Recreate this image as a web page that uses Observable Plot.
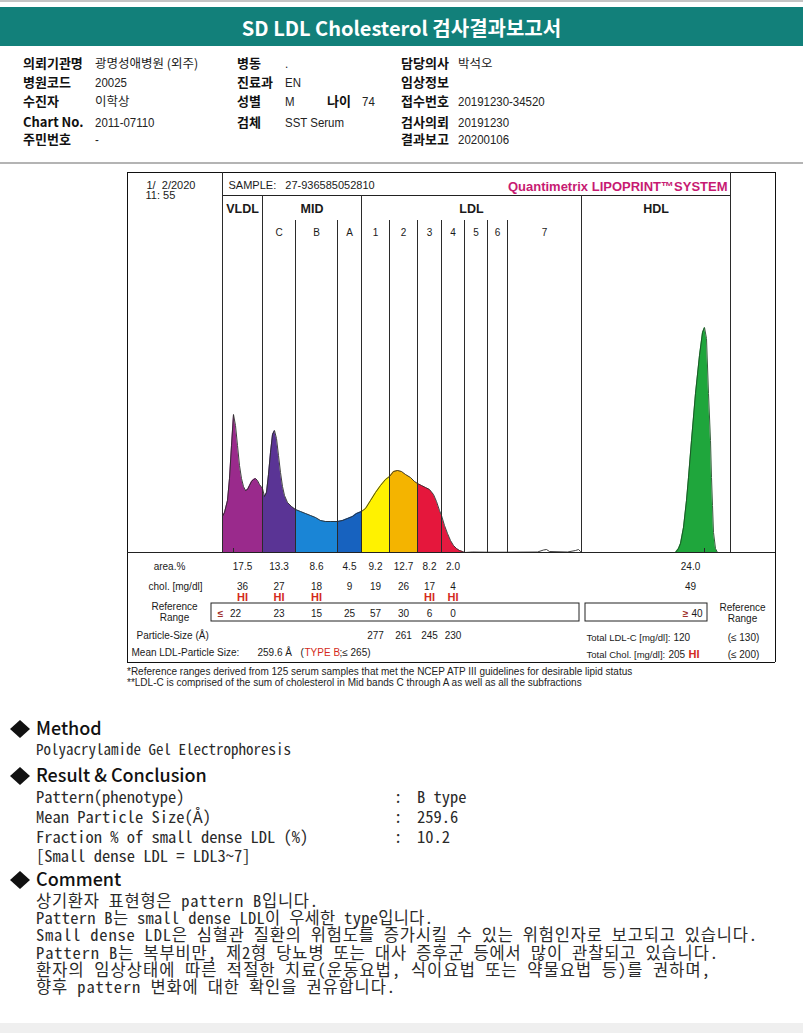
<!DOCTYPE html>
<html><head><meta charset="utf-8">
<script src="https://cdn.jsdelivr.net/npm/d3@7"></script>
<script src="https://cdn.jsdelivr.net/npm/@observablehq/plot@0.6"></script>
<style>
body{margin:0;background:#fff;}
#page{position:relative;width:803px;height:1033px;overflow:hidden;background:#fff;}
#page svg{position:absolute;left:0;}
</style></head>
<body><div id="page"></div>
<script>
// ---------------- DATA ----------------
const title = "SD LDL Cholesterol 검사결과보고서";
const infoLabels = [["의뢰기관명","병동","담당의사"],["병원코드","진료과","임상정보"],["수진자","성별","접수번호"],["Chart No.","검체","검사의뢰"],["주민번호","","결과보고"]];
const infoValues = [["광명성애병원 (외주)",".","박석오"],["20025","EN",""],["이학상","M","20191230-34520"],["2011-07110","SST Serum","20191230"],["-","","20200106"]];
const ageLabel = "나이", ageValue = "74";

const sampleDate = "1/  2/2020", sampleTime = "11: 55";
const sampleText = "SAMPLE:   27-936585052810";
const systemText = "Quantimetrix LIPOPRINT™SYSTEM";

// lane positions of band boundaries (scan position units)
const bandEdges = [95,135,168,210,234,262,290,314,337,360,380,454,603];
const groupNames = ["VLDL","MID","LDL","HDL"];
const groupBounds = [[95,135],[135,234],[234,454],[454,603]];
const subNames = ["C","B","A","1","2","3","4","5","6","7"];
const fillBands = ["VLDL","C","B","A","1","2","3","4"];
const fillColors = ["#9a2a8c","#5a3495","#1a85d6","#1762bf","#fff200","#f4b400","#e5173c","#e41a40"];

// densitometry scan (position, intensity)
const laneX = [95,97,100,102,104,106,108,110,112,114,116,118,120,122,124,126,128,130,132,135,137,139,141,143,145,147,149,151,153,155,157,160,164,168,173,178,183,188,193,198,203,210,215,220,225,229,234,238,243,248,253,258,262,266,270,274,278,283,287,290,294,298,302,306,309,312,314,317,320,323,326,329,332,335,337,345,360,380,410,416,419,422,440,448,451,453,454];
const laneY = [36,40,52,74,107,138,127,107,87,74,66,62,63,67,71,73,74,72,68,64,56,60,78,100,118,122,114,97,80,66,57,50,46,43,41,39,37,35,32,31,31,31,32,34,36,39,41,44,52,60,67,73,76,81,82,81,78,75,71,69,67,65,63,58,51,42,37,27,19,12,7,4,2,1,0,0.5,0.3,0.3,0.5,2.5,3,1,0.5,2,3,1,0.5];
const hdlX = [548,551,553,556,559,561,564,568,572,575,577,579,581,583,584,585,586,588,590];
const hdlY = [0,4,9,25,52,75,112,159,197,220,225,214,159,112,75,47,20,4,0];
const hdlColor = "#1fa63c";
const peakMarks = [106, 577];

// table values
const areaPct = [17.5,13.3,8.6,4.5,9.2,12.7,8.2,2.0];
const cholMg = [36,27,18,9,19,26,17,4];
const cholFlag = ["HI","HI","HI","","","","HI","HI"];
const refRange = [22,23,15,25,57,30,6,0];
const particleSize = [null,null,null,null,277,261,245,230];
const hdlArea = 24.0, hdlChol = 49, hdlRef = 40;
const totalLdlC = 120, totalLdlRef = "(≤ 130)";
const totalChol = 205, totalCholFlag = "HI", totalCholRef = "(≤ 200)";
const meanSize = "259.6 Å", meanType = "TYPE B", meanRef = ";≤ 265)";
const footnotes = ["*Reference ranges derived from 125 serum samples that met the NCEP ATP III guidelines for desirable lipid status",
  "**LDL-C is comprised of the sum of cholesterol in Mid bands C through A as well as all the subfractions"];

const methodText = "Polyacrylamide Gel Electrophoresis";
const resultRows = [["Pattern(phenotype)","B type"],["Mean Particle Size(Å)","259.6"],["Fraction % of small dense LDL (%)","10.2"]];
const resultNote = "[Small dense LDL = LDL3~7]";
const comments = ["상기환자 표현형은 pattern B입니다.",
  "Pattern B는 small dense LDL이 우세한 type입니다.",
  "Small dense LDL은 심혈관 질환의 위험도를 증가시킬 수 있는 위험인자로 보고되고 있습니다.",
  "Pattern B는 복부비만, 제2형 당뇨병 또는 대사 증후군 등에서 많이 관찰되고 있습니다.",
  "환자의 임상상태에 따른 적절한 치료(운동요법, 식이요법 또는 약물요법 등)를 권하며,",
  "향후 pattern 변화에 대한 확인을 권유합니다."];
const commentLineEnds = [318, 433, 757, 718, 710, 395]; // where each printed line ends

// ---------------- PAGE DECOR ----------------
const TEAL = "#12807a";
const KR = "'Noto Sans CJK KR', sans-serif";
const SANS = "'Liberation Sans', Arial, sans-serif";
const MONO = "'Noto Sans Mono CJK KR', 'Noto Sans CJK KR', monospace";
const page = d3.select("#page");
const bg = page.append("svg").attr("width",803).attr("height",1033).style("top","0px");
function apply(t, o) { for (const k in o) t.attr(k, o[k]); return t; }
function txt(s, x, y, o = {}) {
  return apply(bg.append("text").attr("x", x).attr("y", y).text(s).attr("xml:space","preserve").style("white-space","pre"), o);
}
function narrow(s, x, y, o = {}) {
  return apply(bg.append("text").attr("transform", `translate(${x},${y}) scale(0.85,1)`).text(s).attr("xml:space","preserve").style("white-space","pre"), o);
}
const hangul = /[\uAC00-\uD7A3]/;
bg.append("rect").attr("x",0).attr("y",0).attr("width",803).attr("height",2).attr("fill","#c4c4c4");
bg.append("rect").attr("x",0).attr("y",7).attr("width",803).attr("height",39).attr("fill",TEAL);
txt(title, 401.5, 36, {"font-family":KR,"font-size":20,"font-weight":700,fill:"#fff","text-anchor":"middle"});
const rowBase = [68,87,106,127,144];
const labelX = [23,237,401], valueX = [95,285,458];
const labStyle = {"font-family":KR,"font-size":13,"font-weight":700,fill:"#111"};
const valStyle = {"font-family":SANS,"font-size":13.5,fill:"#222"};
const valKrStyle = {"font-family":KR,"font-size":12.5,fill:"#222"};
infoLabels.forEach((row,r) => row.forEach((lab,c) => {
  if (lab) txt(lab, labelX[c], rowBase[r], labStyle);
  const v = infoValues[r][c];
  if (v) {
    if (hangul.test(v)) txt(v, valueX[c], rowBase[r], valKrStyle);
    else narrow(v, valueX[c], rowBase[r], valStyle);
  }
}));
txt(ageLabel, 327, rowBase[2], labStyle);
narrow(ageValue, 362, rowBase[2], valStyle);
bg.append("rect").attr("x",0).attr("y",162).attr("width",803).attr("height",2).attr("fill","#b4b4b4");

// footnotes
footnotes.forEach((f,i) => txt(f, 127, 675 + i*11, {"font-family":SANS,"font-size":10,fill:"#222"}));

// report sections
function diamond(cy) {
  bg.append("path").attr("d", `M10,${cy} L20,${cy-9} L30,${cy} L20,${cy+9} Z`).attr("fill","#111");
}
[["Method",735],["Result & Conclusion",782],["Comment",886]].forEach(([h,y]) => {
  diamond(y-6);
  txt(h, 36, y, {"font-family":KR,"font-size":18,"font-weight":500,fill:"#111"});
});
const bodyStyle = {"font-family":MONO,"font-size":16.5,fill:"#2a2a2a"};
txt(methodText, 36, 755, {...bodyStyle, "font-size":15});
resultRows.forEach(([k,v],i) => {
  const y = 803 + i*20;
  txt(k, 36, y, bodyStyle); txt(":", 394, y, bodyStyle); txt(v, 417, y, bodyStyle);
});
txt(resultNote, 36, 862, bodyStyle);
comments.forEach((c,i) => txt(c, 36, 907 + i*17.2, {...bodyStyle, textLength: commentLineEnds[i] - 36, lengthAdjust: "spacing"}));
bg.append("rect").attr("x",0).attr("y",1023).attr("width",803).attr("height",10).attr("fill","#efefef");

// ---------------- CHART (Observable Plot) ----------------
const BASE = 552;                  // page y of the scan baseline
const Y = py => BASE - py;         // page y -> chart units (1 unit = 1px)
const X = px => px - 127;          // page x -> lane units
const center = i => (bandEdges[i] + bandEdges[i+1]) / 2;

const lane = laneX.map((x,i) => ({x, y: laneY[i]}));
const fillRows = [];
fillBands.forEach((b,i) => {
  lane.filter(d => d.x >= bandEdges[i] && d.x <= bandEdges[i+1]).forEach(d => fillRows.push({...d, band: b}));
});
hdlX.forEach((x,i) => fillRows.push({x, y: hdlY[i], band: "HDL"}));
const hdl = hdlX.map((x,i) => ({x, y: hdlY[i]}));

const bandRows = fillBands.map((b,i) => ({i, b, x: center(i), area: areaPct[i], chol: cholMg[i], flag: cholFlag[i], ref: refRange[i], size: particleSize[i]}));
const subRows = subNames.map((s,k) => ({s, x: center(k+1)}));
const groupRows = groupNames.map((g,k) => ({g, x: (groupBounds[k][0] + groupBounds[k][1]) / 2}));

const FT = Y(172), FB = Y(662), BOXB = Y(195), SUBT = Y(220);
const ink = "#2b2b2b", red = "#d42a20";
const T = (data, o) => Plot.text(data, {lineAnchor: "bottom", fontSize: 10, fill: "#1a1a1a", ...o});
const one = (s, o) => T([s], {text: d => d, ...o});

const chart = Plot.plot({
  width: 803, height: 500,
  marginLeft: 127, marginRight: 28, marginTop: 31, marginBottom: 113,
  x: {domain: [0, 648], axis: null},
  y: {domain: [0, 356], axis: null},
  color: {domain: [...fillBands, "HDL"], range: [...fillColors, hdlColor]},
  style: {fontFamily: SANS, background: "transparent", overflow: "visible"},
  marks: [
    Plot.areaY(fillRows, {x: "x", y1: 0, y2: "y", z: "band", fill: "band"}),
    Plot.line(lane, {x: "x", y: "y", stroke: ink, strokeWidth: 0.9}),
    Plot.line(hdl, {x: "x", y: "y", stroke: "#1d4d25", strokeWidth: 0.9}),
    Plot.ruleX(peakMarks, {y1: 0, y2: 4, stroke: ink}),
    // frame and grid lines
    Plot.ruleX([0, 648], {y1: FB, y2: FT, stroke: "#111"}),
    Plot.ruleY([FT, FB], {x1: 0, x2: 648, stroke: "#111"}),
    Plot.ruleY([BOXB], {x1: bandEdges[0], x2: bandEdges[12], stroke: "#222"}),
    Plot.ruleY([0], {x1: 0, x2: 648, stroke: "#222"}),
    Plot.ruleX([bandEdges[0], bandEdges[12]], {y1: 0, y2: FT, stroke: ink}),
    Plot.ruleX([bandEdges[1], bandEdges[4], bandEdges[11]], {y1: 0, y2: BOXB, stroke: ink}),
    Plot.ruleX([bandEdges[2], bandEdges[3], bandEdges[5], bandEdges[6], bandEdges[7], bandEdges[8], bandEdges[9], bandEdges[10]], {y1: 0, y2: SUBT, stroke: ink}),
    // header
    one(sampleDate, {x: X(146), y: Y(188), textAnchor: "start", fontSize: 11}),
    one(sampleTime, {x: X(145), y: Y(198), textAnchor: "start", fontSize: 11}),
    one(sampleText, {x: X(228), y: Y(188), textAnchor: "start", fontSize: 11}),
    one(systemText, {x: X(727), y: Y(190), textAnchor: "end", fontSize: 13, fontWeight: "bold", fill: "#c71a72"}),
    T(groupRows, {x: "x", y: Y(212), text: "g", fontSize: 12.5, fontWeight: "bold"}),
    T(subRows, {x: "x", y: Y(235), text: "s", fontSize: 10}),
    // table
    one("area.%", {x: X(169), y: Y(569)}),
    T(bandRows, {x: "x", y: Y(569), text: d => d.area.toFixed(1)}),
    one(hdlArea, {x: X(690), y: Y(569), text: d => d.toFixed(1)}),
    one("chol. [mg/dl]", {x: X(175), y: Y(589)}),
    T(bandRows, {x: "x", y: Y(589), text: "chol"}),
    one(hdlChol, {x: X(690), y: Y(589)}),
    T(bandRows.filter(d => d.flag), {x: "x", y: Y(600), text: "flag", fill: red, fontWeight: "bold", fontSize: 11}),
    T(["Reference", "Range"], {x: X(174), y: (d,i) => Y(609 + i*11), text: d => d}),
    Plot.rect([0], {x1: X(211), x2: X(579), y1: Y(621), y2: Y(603), fill: "none", stroke: "#222"}),
    Plot.rect([0], {x1: X(585), x2: X(707), y1: Y(621), y2: Y(603), fill: "none", stroke: "#222"}),
    one("≤", {x: X(220), y: Y(616), fill: "#a0302a", fontWeight: "bold"}),
    T(bandRows, {x: d => d.i === 0 ? d.x - 7 : d.x, y: Y(616), text: "ref"}),
    one("≥", {x: X(685), y: Y(616), fill: "#a0302a", fontWeight: "bold"}),
    one(hdlRef, {x: X(702), y: Y(616), textAnchor: "end"}),
    T(["Reference", "Range"], {x: X(742), y: (d,i) => Y(610 + i*11), text: d => d}),
    one("Particle-Size (Å)", {x: X(136), y: Y(638), textAnchor: "start"}),
    T(bandRows.filter(d => d.size), {x: "x", y: Y(638), text: "size"}),
    one("Total LDL-C [mg/dl]:", {x: X(586), y: Y(640), textAnchor: "start", fontSize: 9.5}),
    one(totalLdlC, {x: X(673), y: Y(640), textAnchor: "start"}),
    one(totalLdlRef, {x: X(743), y: Y(640)}),
    one("Mean LDL-Particle Size:", {x: X(131), y: Y(655), textAnchor: "start"}),
    one(meanSize, {x: X(257), y: Y(655), textAnchor: "start"}),
    one("(", {x: X(300), y: Y(655), textAnchor: "start"}),
    one(meanType, {x: X(304), y: Y(655), textAnchor: "start", fill: red}),
    one(meanRef, {x: X(339), y: Y(655), textAnchor: "start"}),
    one("Total Chol. [mg/dl]:", {x: X(586), y: Y(657), textAnchor: "start", fontSize: 9.5}),
    one(totalChol, {x: X(668), y: Y(657), textAnchor: "start"}),
    one(totalCholFlag, {x: X(688), y: Y(657), textAnchor: "start", fill: red, fontWeight: "bold", fontSize: 11}),
    one(totalCholRef, {x: X(743), y: Y(657)})
  ]
});
d3.select(chart).style("top", "165px");
d3.select(chart).selectAll("text").attr("xml:space","preserve").style("white-space","pre");
document.getElementById("page").appendChild(chart);
</script>
</body></html>
